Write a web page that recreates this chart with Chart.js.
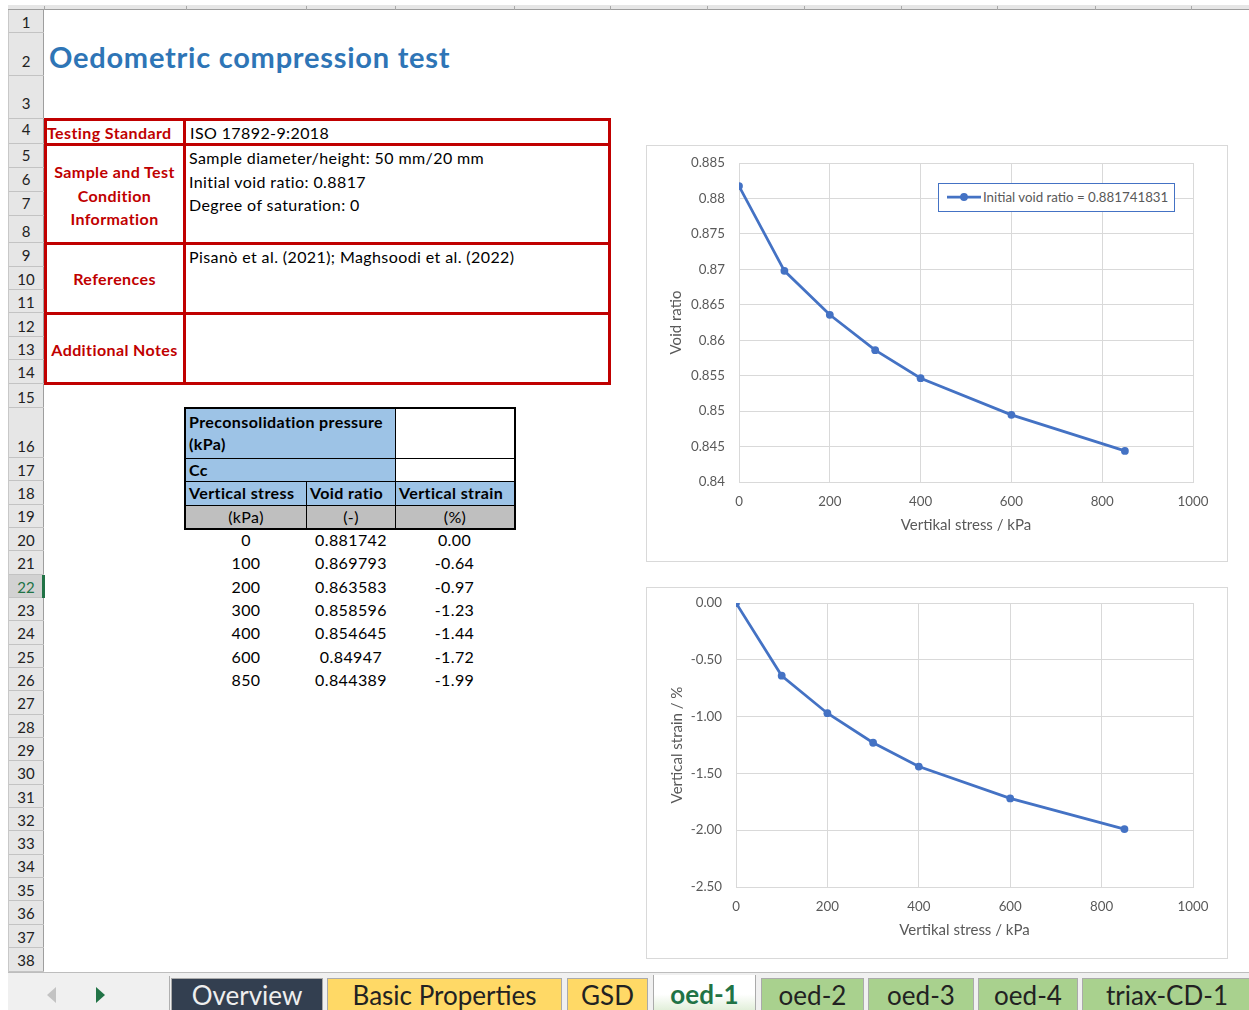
<!DOCTYPE html>
<html><head><meta charset="utf-8">
<script src="https://cdn.jsdelivr.net/npm/chart.js@4/dist/chart.umd.min.js"></script>
<style>
html,body{margin:0;padding:0;background:#fff;}
body{width:1249px;height:1010px;position:relative;overflow:hidden;font-family:Lato,"Noto Sans",sans-serif;}
div,span{box-sizing:border-box;}
canvas{position:absolute;}
</style></head><body>
<script>
// ---------- data ----------
const stressKPa = [0, 100, 200, 300, 400, 600, 850];
const voidRatio = [0.881742, 0.869793, 0.863583, 0.858596, 0.854645, 0.84947, 0.844389];
const verticalStrain = [0.00, -0.64, -0.97, -1.23, -1.44, -1.72, -1.99];
const stressTicks = [0, 200, 400, 600, 800, 1000];
const voidTicks = [0.84, 0.845, 0.85, 0.855, 0.86, 0.865, 0.87, 0.875, 0.88, 0.885];
const strainTicks = [-2.5, -2.0, -1.5, -1.0, -0.5, 0.0];
const legendLabel = "Initial void ratio = 0.881741831";
const xAxisTitle = "Vertikal stress / kPa";
const voidAxisTitle = "Void ratio";
const strainAxisTitle = "Vertical strain / %";
const sheetTitle = "Oedometric compression test";
const tabNames = ["Overview", "Basic Properties", "GSD", "oed-1", "oed-2", "oed-3", "oed-4", "triax-CD-1"];

// ---------- helpers ----------
function el(css, txt, parent) {
  const e = document.createElement('div');
  e.style.cssText = 'position:absolute;' + css;
  if (txt !== undefined) e.textContent = txt;
  (parent || document.body).appendChild(e);
  return e;
}

// column header strip
el('left:8px;top:5px;width:1241px;height:5px;background:#e6e6e6;border-bottom:1px solid #9e9e9e;');
[44,186,306,395,514,610,707,804,901,997,1095,1191].forEach(x => el(`left:${x}px;top:6px;width:1px;height:4px;background:#a8a8a8;`));

// row header
const rowEdges = [10,33,76,119,144,168,192,216,243,267,290,313,337,360,384,408,458,481,505,528,551,575,598,621,645,668,691,715,738,761,785,808,831,855,878,901,925,948,972];
const rowNumY = [22,61,103,129,155,179,203,231,255,279,302,326,349,372,397,446,470,493,516,540,563,587,610,633,657,680,703,727,750,773,797,820,843,866,890,913,937,960];
el('left:8px;top:10px;width:36px;height:962px;background:#e6e6e6;border-right:1px solid #9e9e9e;border-left:1px solid #c8c8c8;');
for (let i = 0; i < 38; i++) {
  const top = rowEdges[i], bot = rowEdges[i+1];
  if (i === 21) el(`left:9px;top:${top}px;width:34px;height:${bot-top}px;background:#d2d2d2;`);
  el(`left:9px;top:${bot-1}px;width:35px;height:1px;background:#c3c3c3;`);
  el(`left:8px;top:${rowNumY[i]-10}px;width:36px;height:20px;line-height:20px;text-align:center;font-size:15px;color:${i===21?'#217346':'#222'};`, String(i+1));
}
el('left:42px;top:575px;width:3px;height:23px;background:#217346;');

// title
el(`left:49px;top:38px;font-size:29px;letter-spacing:0.75px;font-weight:bold;color:#2e75b6;white-space:nowrap;line-height:38px;`, sheetTitle);

// red info table
const red = '#c00000';
const F = 'font-size:16px;letter-spacing:0.4px;';
el(`left:44px;top:118px;width:567px;height:267px;border:3px solid ${red};`);
[143,242,312].forEach(y => el(`left:44px;top:${y}px;width:567px;height:3px;background:${red};`));
el(`left:183px;top:118px;width:3px;height:267px;background:${red};`);
const lab = `color:${red};font-weight:bold;${F}white-space:nowrap;`;
const txt = `color:#000;${F}white-space:nowrap;`;
el(`left:47px;top:122px;line-height:22px;${lab}`, 'Testing Standard');
el(`left:190px;top:122px;line-height:22px;${txt}`, 'ISO 17892-9:2018');
el(`left:46px;top:160px;width:137px;text-align:center;line-height:23.5px;${lab}`).innerHTML = 'Sample and Test<br>Condition<br>Information';
el(`left:189px;top:146px;line-height:23.5px;${txt}`).innerHTML = 'Sample diameter/height: 50 mm/20 mm<br>Initial void ratio: 0.8817<br>Degree of saturation: 0';
el(`left:46px;top:268px;width:137px;text-align:center;line-height:22px;${lab}`, 'References');
el(`left:189px;top:246px;line-height:22px;${txt}`, 'Pisanò et al. (2021); Maghsoodi et al. (2022)');
el(`left:46px;top:339px;width:137px;text-align:center;line-height:22px;${lab}`, 'Additional Notes');

// data table
const blue = '#9dc3e6', grey = '#bfbfbf';
function cell(x, y, w, h, bg, t, align, bold) {
  const c = el(`left:${x}px;top:${y}px;width:${w}px;height:${h}px;background:${bg};border:1px solid #000;${F}color:#000;${bold?'font-weight:bold;':''}text-align:${align};padding:0 3px;line-height:22px;white-space:nowrap;overflow:hidden;`);
  if (t !== undefined) c.innerHTML = t;
  return c;
}
cell(185, 408, 211, 51, blue, 'Preconsolidation pressure<br>(kPa)', 'left', true).style.paddingTop = '2px';
cell(395, 408, 120, 51, '#fff');
cell(185, 458, 211, 24, blue, 'Cc', 'left', true);
cell(395, 458, 120, 24, '#fff');
cell(185, 481, 122, 25, blue, 'Vertical stress', 'left', true);
cell(306, 481, 90, 25, blue, 'Void ratio', 'left', true);
cell(395, 481, 120, 25, blue, 'Vertical strain', 'left', true);
cell(185, 505, 122, 24, grey, '(kPa)', 'center');
cell(306, 505, 90, 24, grey, '(-)', 'center');
cell(395, 505, 120, 24, grey, '(%)', 'center');
el('left:184px;top:407px;width:332px;height:123px;border:1px solid #000;');
for (let i = 0; i < stressKPa.length; i++) {
  const yc = 540 + i * 23.35;
  const st = `top:${yc-11}px;height:22px;line-height:22px;${F}color:#000;text-align:center;`;
  el(`left:186px;width:120px;${st}`, String(stressKPa[i]));
  el(`left:306px;width:90px;${st}`, String(voidRatio[i]));
  el(`left:395px;width:119px;${st}`, verticalStrain[i].toFixed(2));
}

// chart frames
el('left:646px;top:145px;width:582px;height:417px;border:1px solid #d9d9d9;background:#fff;');
el('left:646px;top:587px;width:582px;height:372px;border:1px solid #d9d9d9;background:#fff;');

// tab bar
el('left:8px;top:972px;width:1241px;height:38px;background:#f0f0f0;border-top:1px solid #bdbdbd;');
el('left:47px;top:987px;width:0;height:0;border-top:8px solid transparent;border-bottom:8px solid transparent;border-right:9px solid #c3c3c3;');
el('left:96px;top:987px;width:0;height:0;border-top:8px solid transparent;border-bottom:8px solid transparent;border-left:9px solid #217346;');
el('left:169px;top:976px;width:1px;height:34px;background:#b0b0b0;');
const tabX = [[171,323],[327,562],[567,648],[653,756],[761,864],[868,974],[978,1078],[1082,1252]];
const tabBg = ['#333f50','#ffd966','#ffd966','linear-gradient(#ffffff 55%,#e2efda)','#a9d18e','#a9d18e','#a9d18e','#a9d18e'];
tabNames.forEach((n, i) => {
  const [a, b] = tabX[i];
  const active = i === 3;
  el(`left:${a}px;top:${active?975:978}px;width:${b-a}px;height:${active?35:32}px;background:${tabBg[i]};border-left:1px solid #aaa;border-right:1px solid #aaa;${active?'':'border-top:1px solid #aaa;'}text-align:center;line-height:${active?39:33}px;font-size:26px;white-space:nowrap;color:${i===0?'#eeeeee':(active?'#217346':'#222')};${active?'font-weight:bold;':''}`, n);
});

// ---------- charts ----------
const fam = 'Lato, "Noto Sans", sans-serif';
function makeCanvas(x, y, w, h) {
  const c = document.createElement('canvas');
  c.width = w; c.height = h;
  c.style.left = x + 'px'; c.style.top = y + 'px';
  c.style.width = w + 'px'; c.style.height = h + 'px';
  document.body.appendChild(c);
  return c;
}
function axisCommon(ticksArr, fmt) {
  return {
    type: 'linear',
    min: Math.min(...ticksArr), max: Math.max(...ticksArr),
    afterBuildTicks: s => { s.ticks = ticksArr.map(v => ({ value: v })); },
    grid: { color: '#d9d9d9', lineWidth: 1, drawTicks: false },
    border: { color: '#d9d9d9', width: 1 },
    ticks: { color: '#595959', font: { family: fam, size: 13.3 }, maxRotation: 0, autoSkip: false, callback: fmt }
  };
}
function makeChart(canvas, ys, yTicks, yFmt, yTitle, pad, yWidth, xHeight, yTitlePad, xTitlePad) {
  const xs = axisCommon(stressTicks, v => String(v));
  xs.afterFit = s => { s.height = xHeight; s.paddingLeft = 0; s.paddingRight = 0; };
  xs.ticks.padding = 12;
  xs.title = { display: true, text: xAxisTitle, color: '#595959', font: { family: fam, size: 15 }, padding: { top: 0, bottom: xTitlePad } };
  const yS = axisCommon(yTicks, yFmt);
  yS.afterFit = s => { s.width = yWidth; s.paddingTop = 0; s.paddingBottom = 0; };
  yS.ticks.padding = 14;
  yS.title = { display: true, text: yTitle, color: '#595959', font: { family: fam, size: 15 }, padding: { top: yTitlePad, bottom: 0 } };
  return new Chart(canvas, {
    type: 'scatter',
    data: { datasets: [{
      label: legendLabel,
      data: stressKPa.map((x, i) => ({ x: x, y: ys[i] })),
      showLine: true, tension: 0,
      borderColor: '#4472c4', backgroundColor: '#4472c4',
      borderWidth: 2.75, pointRadius: 3.9, pointHoverRadius: 3.9, pointBorderWidth: 0
    }] },
    options: {
      responsive: false, animation: false, devicePixelRatio: 1,
      layout: { padding: pad },
      plugins: { legend: { display: false }, tooltip: { enabled: false } },
      scales: { x: xs, y: yS }
    }
  });
}
const c1 = makeCanvas(646, 145, 581, 416);
makeChart(c1, voidRatio, voidTicks, v => String(parseFloat(Number(v).toFixed(3))), voidAxisTitle,
  { top: 18, right: 34, left: 0, bottom: 0 }, 93, 79, 21, 27);
const c2 = makeCanvas(646, 587, 581, 371);
makeChart(c2, verticalStrain, strainTicks, v => Number(v).toFixed(2), strainAxisTitle,
  { top: 16, right: 34, left: 0, bottom: 0 }, 90, 71, 22, 19);

// legend (chart 1)
const lg = el('left:938px;top:183px;width:237px;height:29px;border:1.5px solid #4472c4;background:#fff;');
lg.innerHTML = '<svg width="40" height="26" style="position:absolute;left:6px;top:0"><line x1="2" y1="13" x2="36" y2="13" stroke="#4472c4" stroke-width="2.75"/><circle cx="19" cy="13" r="3.9" fill="#4472c4"/></svg>';
el('left:44px;top:4px;line-height:18px;font-size:13.3px;color:#595959;white-space:nowrap;', legendLabel, lg);
</script>
</body></html>
